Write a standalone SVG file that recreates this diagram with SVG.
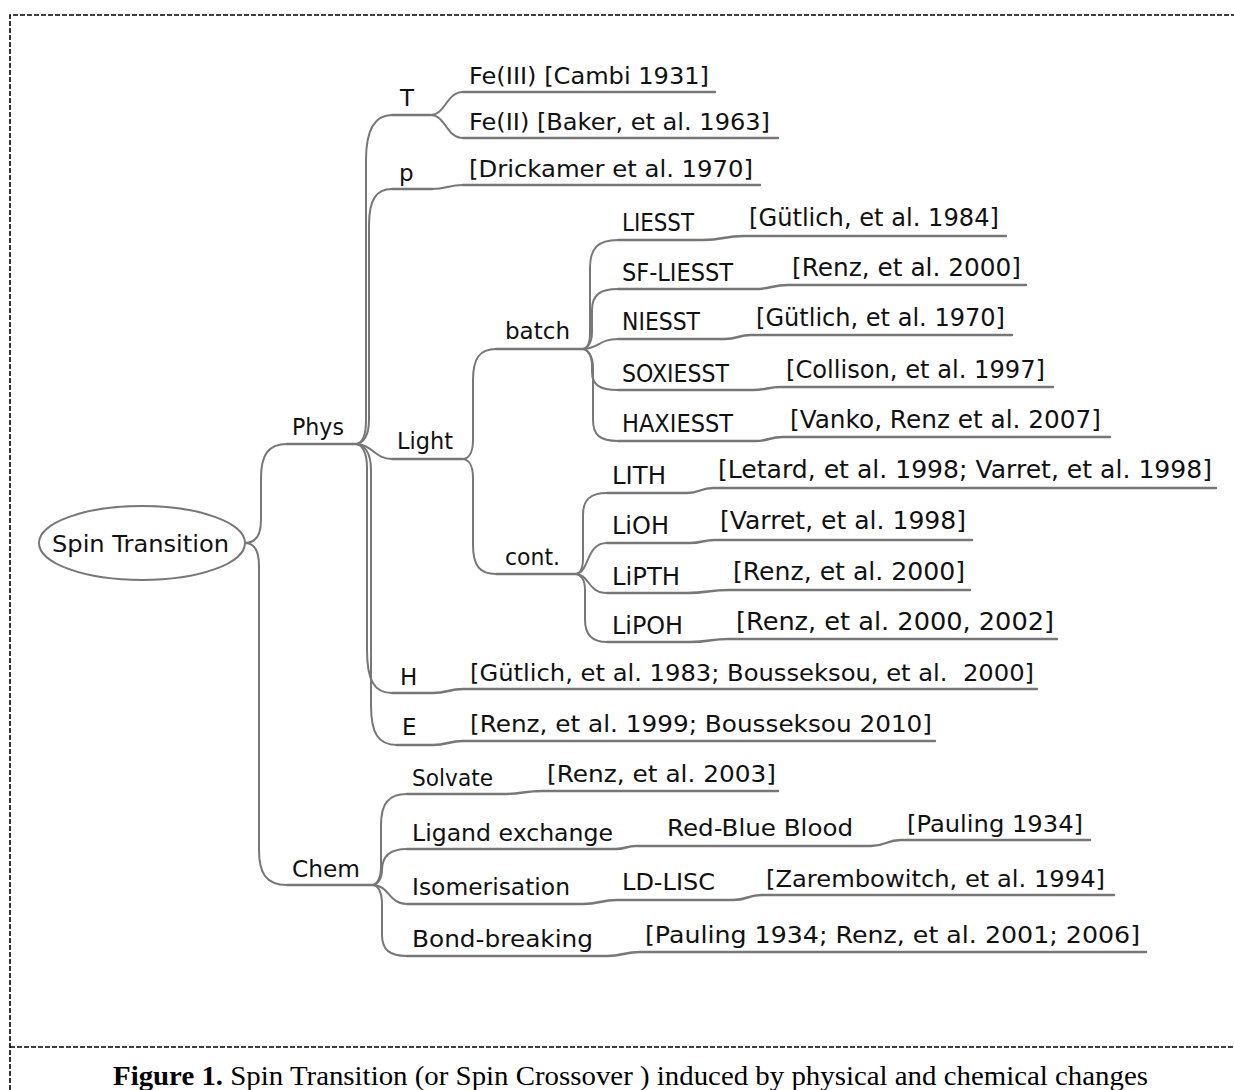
<svg xmlns="http://www.w3.org/2000/svg" width="1234" height="1090" viewBox="0 0 1234 1090">
<style>
.t{font-family:"DejaVu Sans","Liberation Sans",sans-serif;font-size:23px;fill:#111}
.c{font-family:"DejaVu Sans","Liberation Sans",sans-serif;font-size:24px;fill:#111}
.ln{fill:none;stroke:#777;stroke-width:2.4;stroke-linecap:round}
.cn{fill:none;stroke:#777;stroke-width:2;stroke-linecap:round}
.bd{fill:none;stroke:#000;stroke-width:1.6;stroke-dasharray:5 2}
.cap{font-family:"Liberation Serif","Times New Roman",serif;font-size:27px;fill:#000}
</style>
<rect width="1234" height="1090" fill="#fff"/>
<path class="bd" d="M10,1090 V15 H1234"/>
<path class="bd" d="M10,1047 H1234"/>
<text class="cap" x="113" y="1085" textLength="1035" lengthAdjust="spacingAndGlyphs"><tspan font-weight="bold">Figure 1.</tspan> Spin Transition (or Spin Crossover ) induced by physical and chemical changes</text>

<g id="connectors">
<path class="cn" d="M245,543 C256,543 261,535 261,520 L261,478 C261,455 268,444 287,444"/>
<path class="cn" d="M245,543 C255,543 259,552 259,566 L259,850 C259,873 266,885 287,885"/>
<path class="cn" d="M355,444 C362,444 366,436 366,420 L366,160 C366,130 374,115 392,115"/>
<path class="cn" d="M355,444 C363,444 369,436 369,420 L369,225 C369,200 376,189 392,189"/>
<path class="cn" d="M355,444 C373,444 374,459 392,459"/>
<path class="cn" d="M355,444 C362,444 367,452 367,468 L367,650 C367,680 374,693 392,693"/>
<path class="cn" d="M355,444 C364,444 371,452 371,470 L371,705 C371,733 378,745 397,745"/>
<path class="cn" d="M430,115 C446,115 446,92 463,92"/>
<path class="cn" d="M430,115 C446,115 446,138 463,138"/>
<path class="cn" d="M432,189 C447,189 448,185 463,185"/>
<path class="cn" d="M462,459 C469,459 473,452 473,440 L473,380 C473,358 480,349 496,349"/>
<path class="cn" d="M462,459 C469,459 473,466 473,478 L473,545 C473,566 480,574 496,574"/>
<path class="cn" d="M582,349 C587,349 590,343 590,333 L590,268 C590,248 598,240 618,240"/>
<path class="cn" d="M582,349 C588,349 592,342 592,332 L592,310 C592,295 600,289 618,289"/>
<path class="cn" d="M582,349 C600,349 598,339 618,339"/>
<path class="cn" d="M582,349 C588,349 592,356 592,366 L592,372 C592,385 600,390 618,390"/>
<path class="cn" d="M582,349 C588,349 593,356 593,368 L593,420 C593,435 600,441 618,441"/>
<path class="cn" d="M575,574 C580,574 583,568 583,558 L583,515 C583,500 590,493 607,493"/>
<path class="cn" d="M575,574 C590,574 585,543 607,543"/>
<path class="cn" d="M575,574 C590,574 587,593 607,593"/>
<path class="cn" d="M575,574 C581,574 585,580 585,590 L585,620 C585,635 592,642 607,642"/>
<path class="cn" d="M372,885 C377,885 381,878 381,866 L381,825 C381,804 388,794 407,794"/>
<path class="cn" d="M372,885 C378,885 382,878 382,870 C382,856 390,849 407,849"/>
<path class="cn" d="M372,885 C390,885 388,904 407,904"/>
<path class="cn" d="M372,885 C378,885 382,892 382,904 L382,935 C382,950 390,956 407,956"/>
</g>

<g id="root">
<ellipse cx="142" cy="543" rx="103" ry="37" fill="#fff" stroke="#777" stroke-width="2"/>
<text class="t" x="52" y="552" font-size="24" textLength="177" lengthAdjust="spacingAndGlyphs">Spin Transition</text>
</g>

<g id="phys"><path class="ln" d="M287,444 H355"/><text class="t" x="292" y="435" textLength="52" lengthAdjust="spacingAndGlyphs">Phys</text></g>
<g id="chem"><path class="ln" d="M287,885 H372"/><text class="t" x="292" y="877" textLength="68" lengthAdjust="spacingAndGlyphs">Chem</text></g>

<g id="T"><path class="ln" d="M392,115 H430"/><text class="t" x="400" y="106" font-size="24">T</text></g>
<g id="fe3"><path class="ln" d="M463,92 H715"/><text class="t" x="469" y="84" textLength="240" lengthAdjust="spacingAndGlyphs">Fe(III) [Cambi 1931]</text></g>
<g id="fe2"><path class="ln" d="M463,138 H778"/><text class="t" x="469" y="130" textLength="301" lengthAdjust="spacingAndGlyphs">Fe(II) [Baker, et al. 1963]</text></g>

<g id="p"><path class="ln" d="M392,189 H432"/><text class="t" x="399" y="181" font-size="24">p</text></g>
<g id="p-cit"><path class="ln" d="M463,185 H760"/><text class="t" x="469" y="177" textLength="284" lengthAdjust="spacingAndGlyphs">[Drickamer et al. 1970]</text></g>

<g id="light"><path class="ln" d="M392,459 H462"/><text class="t" x="397" y="449" textLength="56" lengthAdjust="spacingAndGlyphs">Light</text></g>
<g id="batch"><path class="ln" d="M496,349 H582"/><text class="t" x="505" y="339" textLength="65" lengthAdjust="spacingAndGlyphs">batch</text></g>
<g id="cont"><path class="ln" d="M496,574 H575"/><text class="t" x="505" y="565" textLength="55" lengthAdjust="spacingAndGlyphs">cont.</text></g>

<g id="liesst"><path class="ln" d="M618,240 H703 C724,240 723,236 744,236 H1006"/><text class="c" x="622" y="231" textLength="72" lengthAdjust="spacingAndGlyphs">LIESST</text><text class="c" x="749" y="226" textLength="250" lengthAdjust="spacingAndGlyphs">[Gütlich, et al. 1984]</text></g>
<g id="sf-liesst"><path class="ln" d="M618,289 H755 C772,289 771,285 788,285 H1026"/><text class="c" x="622" y="281" textLength="111" lengthAdjust="spacingAndGlyphs">SF-LIESST</text><text class="c" x="792" y="276" textLength="229" lengthAdjust="spacingAndGlyphs">[Renz, et al. 2000]</text></g>
<g id="niesst"><path class="ln" d="M618,339 H725 C738,339 738,335 751,335 H1012"/><text class="c" x="622" y="330" textLength="78" lengthAdjust="spacingAndGlyphs">NIESST</text><text class="c" x="756" y="326" textLength="249" lengthAdjust="spacingAndGlyphs">[Gütlich, et al. 1970]</text></g>
<g id="soxiesst"><path class="ln" d="M618,390 H753 C767,390 767,387 781,387 H1053"/><text class="c" x="622" y="382" textLength="107" lengthAdjust="spacingAndGlyphs">SOXIESST</text><text class="c" x="786" y="378" textLength="259" lengthAdjust="spacingAndGlyphs">[Collison, et al. 1997]</text></g>
<g id="haxiesst"><path class="ln" d="M618,441 H755 C769,441 769,437 783,437 H1110"/><text class="c" x="622" y="432" textLength="111" lengthAdjust="spacingAndGlyphs">HAXIESST</text><text class="c" x="790" y="428" textLength="311" lengthAdjust="spacingAndGlyphs">[Vanko, Renz et al. 2007]</text></g>

<g id="lith"><path class="ln" d="M607,493 H687 C700,493 700,488 713,488 H1216"/><text class="c" x="612" y="484" textLength="54" lengthAdjust="spacingAndGlyphs">LITH</text><text class="c" x="718" y="478" textLength="494" lengthAdjust="spacingAndGlyphs">[Letard, et al. 1998; Varret, et al. 1998]</text></g>
<g id="lioh"><path class="ln" d="M607,543 H690 C702,543 703,540 715,540 H972"/><text class="c" x="612" y="534" textLength="57" lengthAdjust="spacingAndGlyphs">LiOH</text><text class="c" x="720" y="529" textLength="246" lengthAdjust="spacingAndGlyphs">[Varret, et al. 1998]</text></g>
<g id="lipth"><path class="ln" d="M607,593 H687 C708,593 708,590 729,590 H970"/><text class="c" x="612" y="585" textLength="68" lengthAdjust="spacingAndGlyphs">LiPTH</text><text class="c" x="733" y="580" textLength="232" lengthAdjust="spacingAndGlyphs">[Renz, et al. 2000]</text></g>
<g id="lipoh"><path class="ln" d="M607,642 H690 C710,642 709,639 729,639 H1057"/><text class="c" x="612" y="634" textLength="71" lengthAdjust="spacingAndGlyphs">LiPOH</text><text class="c" x="736" y="630" textLength="318" lengthAdjust="spacingAndGlyphs">[Renz, et al. 2000, 2002]</text></g>

<g id="H"><path class="ln" d="M392,693 H433 C448,693 448,689 463,689 H1037"/><text class="t" x="400" y="685">H</text><text class="t" x="470" y="681" textLength="564" lengthAdjust="spacingAndGlyphs" style="white-space:pre">[Gütlich, et al. 1983; Bousseksou, et al.  2000]</text></g>
<g id="E"><path class="ln" d="M397,745 H433 C448,745 448,741 463,741 H935"/><text class="t" x="402" y="735">E</text><text class="t" x="470" y="732" textLength="462" lengthAdjust="spacingAndGlyphs">[Renz, et al. 1999; Bousseksou 2010]</text></g>

<g id="solvate"><path class="ln" d="M407,794 H503 C523,794 523,791 543,791 H778"/><text class="t" x="412" y="786" textLength="81" lengthAdjust="spacingAndGlyphs">Solvate</text><text class="t" x="547" y="782" textLength="229" lengthAdjust="spacingAndGlyphs">[Renz, et al. 2003]</text></g>
<g id="ligand"><path class="ln" d="M407,849 H616 C626,849 626,846 636,846 H871 C886,846 886,840 901,840 H1090"/><text class="t" x="412" y="841" textLength="201" lengthAdjust="spacingAndGlyphs">Ligand exchange</text><text class="t" x="667" y="836" textLength="186" lengthAdjust="spacingAndGlyphs">Red-Blue Blood</text><text class="t" x="907" y="832" textLength="176" lengthAdjust="spacingAndGlyphs">[Pauling 1934]</text></g>
<g id="isomer"><path class="ln" d="M407,904 H583 C600,904 600,900 617,900 H733 C748,900 747,895 762,895 H1114"/><text class="t" x="412" y="895" textLength="158" lengthAdjust="spacingAndGlyphs">Isomerisation</text><text class="t" x="622" y="890" textLength="93" lengthAdjust="spacingAndGlyphs">LD-LISC</text><text class="t" x="766" y="887" textLength="339" lengthAdjust="spacingAndGlyphs">[Zarembowitch, et al. 1994]</text></g>
<g id="bond"><path class="ln" d="M407,956 H607 C623,956 624,952 640,952 H1146"/><text class="t" x="412" y="947" textLength="181" lengthAdjust="spacingAndGlyphs">Bond-breaking</text><text class="t" x="645" y="943" textLength="495" lengthAdjust="spacingAndGlyphs">[Pauling 1934; Renz, et al. 2001; 2006]</text></g>
</svg>
